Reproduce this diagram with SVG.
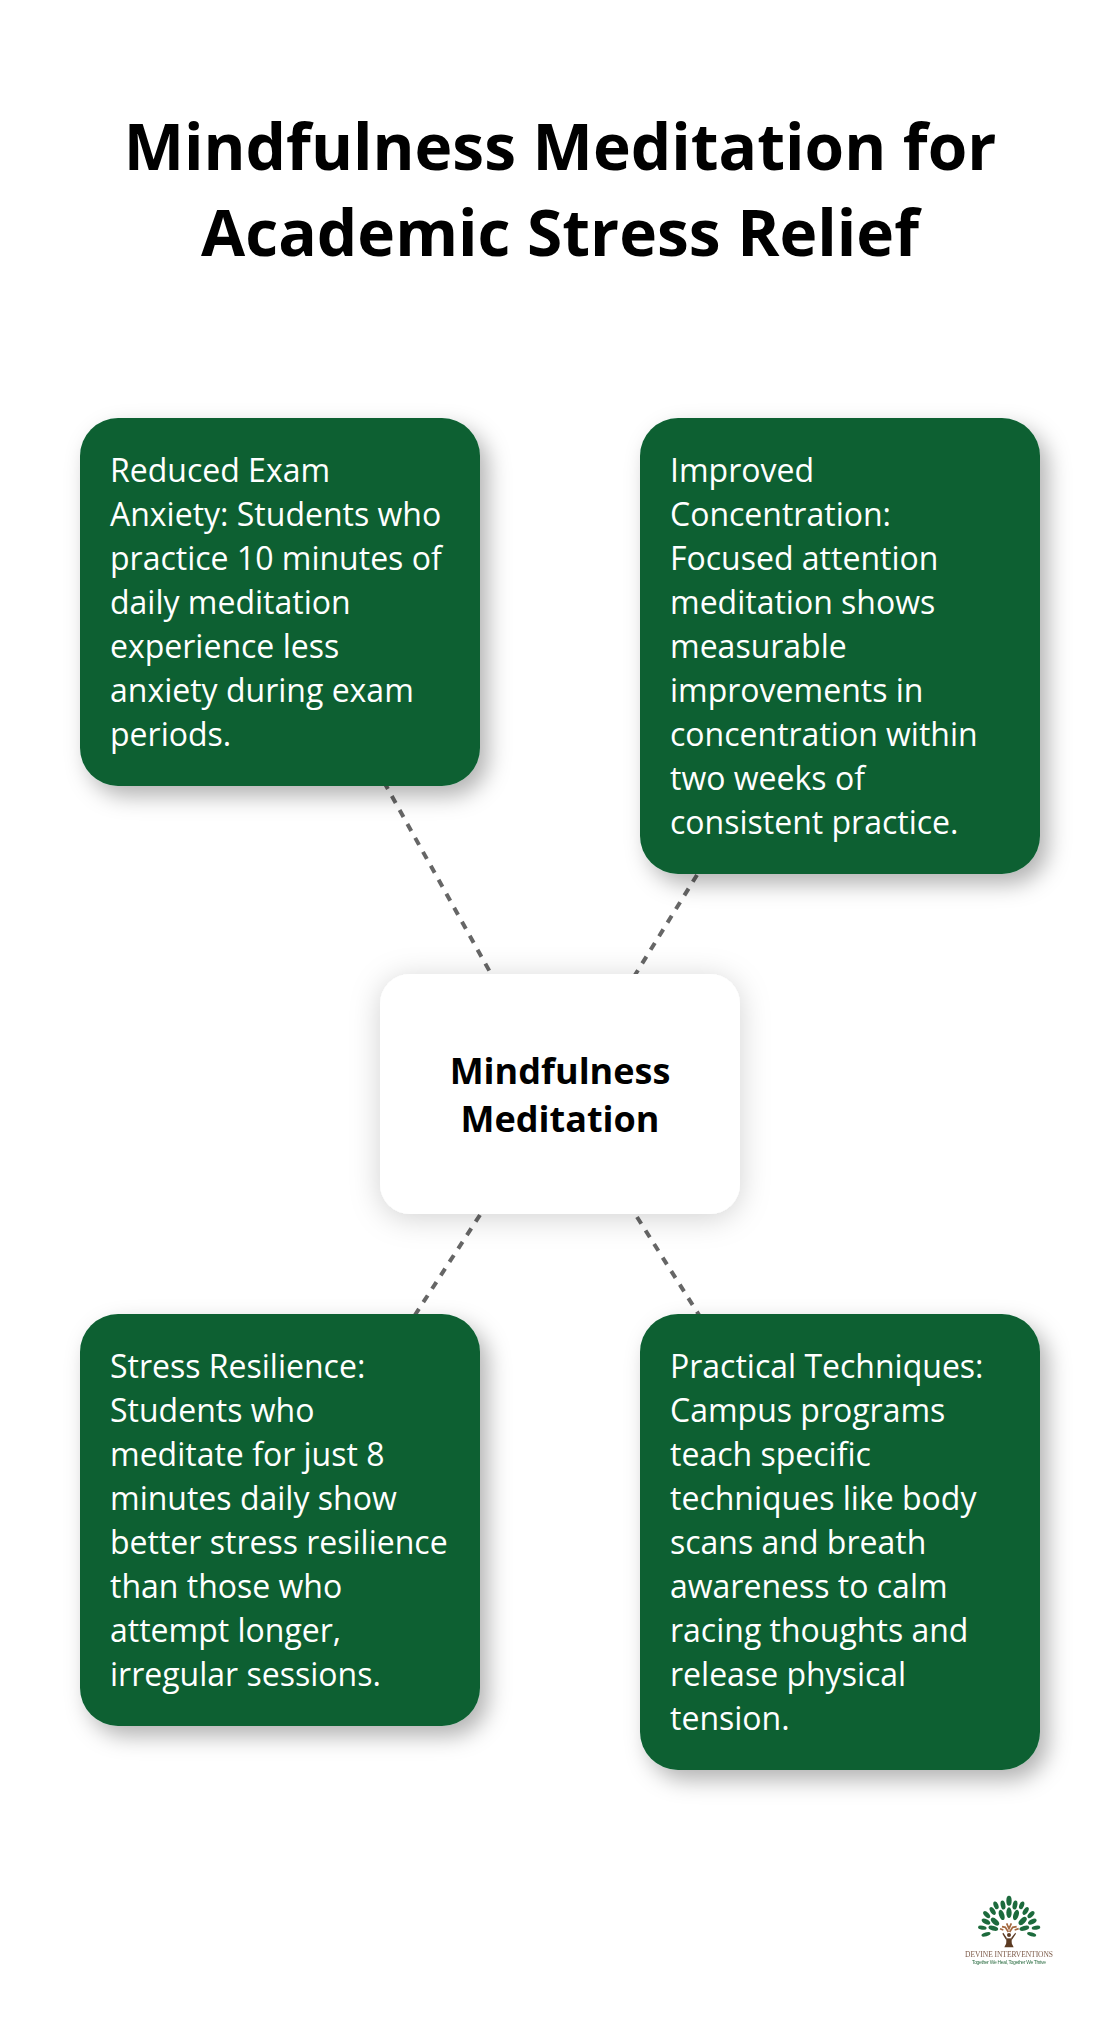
<svg xmlns="http://www.w3.org/2000/svg" width="1120" height="2030" viewBox="0 0 1120 2030">
<defs>
<style>
.title{font:700 64px "Open Sans",sans-serif;fill:#000;text-anchor:middle}
.card{fill:#0a6132;filter:url(#sh)}
.ctr{fill:#fff;filter:url(#sh2)}
.t{font:400 32px "Open Sans",sans-serif;fill:#fff}
.c{font:700 36px "Open Sans",sans-serif;fill:#000;text-anchor:middle}
.conn{stroke:#666;stroke-width:4;stroke-dasharray:8 8;fill:none}
.leaf{fill:#1f6b3c}
</style>
<filter id="sh" x="-20%" y="-20%" width="145%" height="145%"><feDropShadow dx="8" dy="10" stdDeviation="11" flood-color="#000" flood-opacity=".3"/></filter>
<filter id="sh2" x="-30%" y="-40%" width="160%" height="180%"><feDropShadow dx="0" dy="4" stdDeviation="15" flood-color="#000" flood-opacity=".18"/></filter>
<filter id="bl" x="-5%" y="-5%" width="110%" height="110%"><feGaussianBlur stdDeviation=".35"/></filter>
</defs>
<rect width="1120" height="2030" fill="#fff"/>
<g id="title">
<text class="title" x="560" y="170">Mindfulness Meditation for</text>
<text class="title" x="560" y="256">Academic Stress Relief</text>
</g>
<g id="connectors">
<line class="conn" x1="384" y1="782" x2="490" y2="972"/>
<line class="conn" x1="697" y1="875" x2="635" y2="975"/>
<line class="conn" x1="480" y1="1215" x2="415" y2="1315"/>
<line class="conn" x1="637" y1="1217" x2="699" y2="1315"/>
</g>
<g id="node-anxiety">
<rect class="card" x="80" y="418" width="400" height="368" rx="38"/>
<text class="t" x="110" y="482">Reduced Exam</text>
<text class="t" x="110" y="526">Anxiety: Students who</text>
<text class="t" x="110" y="570">practice 10 minutes of</text>
<text class="t" x="110" y="614">daily meditation</text>
<text class="t" x="110" y="658">experience less</text>
<text class="t" x="110" y="702">anxiety during exam</text>
<text class="t" x="110" y="746">periods.</text>
</g>
<g id="node-concentration">
<rect class="card" x="640" y="418" width="400" height="456" rx="38"/>
<text class="t" x="670" y="482">Improved</text>
<text class="t" x="670" y="526">Concentration:</text>
<text class="t" x="670" y="570">Focused attention</text>
<text class="t" x="670" y="614">meditation shows</text>
<text class="t" x="670" y="658">measurable</text>
<text class="t" x="670" y="702">improvements in</text>
<text class="t" x="670" y="746">concentration within</text>
<text class="t" x="670" y="790">two weeks of</text>
<text class="t" x="670" y="834">consistent practice.</text>
</g>
<g id="node-center">
<rect class="ctr" x="380" y="974" width="360" height="240" rx="30"/>
<text class="c" x="560" y="1084">Mindfulness</text>
<text class="c" x="560" y="1132">Meditation</text>
</g>
<g id="node-resilience">
<rect class="card" x="80" y="1314" width="400" height="412" rx="38"/>
<text class="t" x="110" y="1378">Stress Resilience:</text>
<text class="t" x="110" y="1422">Students who</text>
<text class="t" x="110" y="1466">meditate for just 8</text>
<text class="t" x="110" y="1510">minutes daily show</text>
<text class="t" x="110" y="1554">better stress resilience</text>
<text class="t" x="110" y="1598">than those who</text>
<text class="t" x="110" y="1642">attempt longer,</text>
<text class="t" x="110" y="1686">irregular sessions.</text>
</g>
<g id="node-techniques">
<rect class="card" x="640" y="1314" width="400" height="456" rx="38"/>
<text class="t" x="670" y="1378">Practical Techniques:</text>
<text class="t" x="670" y="1422">Campus programs</text>
<text class="t" x="670" y="1466">teach specific</text>
<text class="t" x="670" y="1510">techniques like body</text>
<text class="t" x="670" y="1554">scans and breath</text>
<text class="t" x="670" y="1598">awareness to calm</text>
<text class="t" x="670" y="1642">racing thoughts and</text>
<text class="t" x="670" y="1686">release physical</text>
<text class="t" x="670" y="1730">tension.</text>
</g>
<g id="logo" filter="url(#bl)">
<g transform="translate(940 1870) scale(.3333)">
<ellipse class="leaf" cx="207" cy="92" rx="8" ry="15"/>
<ellipse class="leaf" cx="189" cy="105" rx="7" ry="14" transform="rotate(-11 189 105)"/>
<ellipse class="leaf" cx="225" cy="105" rx="7" ry="14" transform="rotate(11 225 105)"/>
<ellipse class="leaf" cx="168" cy="106" rx="7" ry="12" transform="rotate(-22 168 106)"/>
<ellipse class="leaf" cx="245" cy="106" rx="7" ry="12" transform="rotate(22 245 106)"/>
<ellipse class="leaf" cx="158" cy="123" rx="7" ry="13" transform="rotate(-32 158 123)"/>
<ellipse class="leaf" cx="257" cy="123" rx="7" ry="13" transform="rotate(33 257 123)"/>
<ellipse class="leaf" cx="140" cy="134" rx="7" ry="13" transform="rotate(-45 140 134)"/>
<ellipse class="leaf" cx="273" cy="134" rx="7" ry="13" transform="rotate(45 273 134)"/>
<ellipse class="leaf" cx="138" cy="155" rx="7" ry="14" transform="rotate(-62 138 155)"/>
<ellipse class="leaf" cx="277" cy="155" rx="7" ry="14" transform="rotate(62 277 155)"/>
<ellipse class="leaf" cx="127" cy="173" rx="6" ry="13" transform="rotate(-80 127 173)"/>
<ellipse class="leaf" cx="288" cy="173" rx="6" ry="13" transform="rotate(80 288 173)"/>
<ellipse class="leaf" cx="160" cy="175" rx="7" ry="15" transform="rotate(-75 160 175)"/>
<ellipse class="leaf" cx="253" cy="175" rx="7" ry="15" transform="rotate(75 253 175)"/>
<ellipse class="leaf" cx="138" cy="193" rx="6" ry="14" transform="rotate(-105 138 193)"/>
<ellipse class="leaf" cx="275" cy="193" rx="6" ry="14" transform="rotate(105 275 193)"/>
<ellipse class="leaf" cx="165" cy="155" rx="8" ry="15" transform="rotate(-48 165 155)"/>
<ellipse class="leaf" cx="248" cy="153" rx="8" ry="15" transform="rotate(46 248 153)"/>
<ellipse class="leaf" cx="185" cy="135" rx="8" ry="16" transform="rotate(-19 185 135)"/>
<ellipse class="leaf" cx="228" cy="135" rx="8" ry="16" transform="rotate(18 228 135)"/>
<ellipse class="leaf" cx="207" cy="128" rx="8" ry="16"/>
<path d="M190 188 L200 203 L201 216 L193 232 L221 232 L213 216 L214 203 L226 188 L228 191 L217 208 L207 214 L197 208 L187 191Z" fill="#5b3a24"/>
<rect x="199" y="205" width="16" height="16" fill="#5b3a24"/>
<circle cx="207" cy="195" r="6" fill="#5b3a24"/>
<path d="M205 186 L196 172 L186 170 M209 186 L218 172 L230 170 M200 160 L207 176 L214 160 M190 180 L180 176 M224 180 L236 176" fill="none" stroke="#a4683f" stroke-width="5"/>
</g>
<text x="965" y="1957" font-family="Liberation Serif,serif" font-size="7.5" fill="#7c5a48" textLength="88" lengthAdjust="spacing">DEVINE INTERVENTIONS</text>
<text x="972" y="1964" font-family="Liberation Sans,sans-serif" font-size="5" fill="#2f6f45" textLength="74" lengthAdjust="spacing">Together We Heal, Together We Thrive</text>
</g>
</svg>
